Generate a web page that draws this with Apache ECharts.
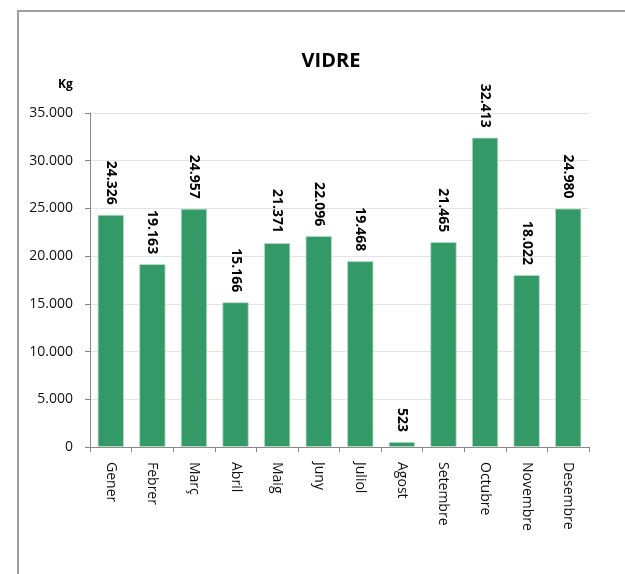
<!DOCTYPE html>
<html>
<head>
<meta charset="utf-8">
<script src="https://cdn.jsdelivr.net/npm/echarts@6/dist/echarts.min.js"></script>
<style>html,body{margin:0;padding:0;background:#fff;}#c{width:625px;height:574px;}</style>
</head>
<body>
<div id="c"></div>
<script>
const categories = ['Gener','Febrer','Març','Abril','Maig','Juny','Juliol','Agost','Setembre','Octubre','Novembre','Desembre'];
const values = [24326, 19163, 24957, 15166, 21371, 22096, 19468, 523, 21465, 32413, 18022, 24980];
const yTicks = [0, 5000, 10000, 15000, 20000, 25000, 30000, 35000];
const titleText = 'VIDRE';
const unitText = 'Kg';

function fmt(v) {
  return String(Math.round(v)).replace(/\B(?=(\d{3})+(?!\d))/g, '.');
}
const FONT = '"Open Sans", sans-serif';
const chart = echarts.init(document.getElementById('c'), null, {renderer: 'canvas'});
chart.setOption({
  animation: false,
  backgroundColor: '#fff',
  title: {
    text: titleText,
    left: 326, top: 46, textAlign: 'center',
    textStyle: {fontFamily: FONT, fontWeight: 'bold', fontSize: 20, color: '#000'}
  },
  graphic: [
    {type: 'rect', shape: {x: 18, y: 11, width: 700, height: 700},
     style: {fill: 'none', stroke: '#a0a0a0', lineWidth: 2}, silent: true, z: -1},
    {type: 'text', left: 58, top: 79,
     style: {text: unitText, font: 'bold 12px "Open Sans", sans-serif', fill: '#000'}}
  ],
  grid: {left: 90, right: 36, top: 113, bottom: 127, containLabel: false},
  xAxis: {
    type: 'category',
    data: categories,
    axisLine: {show: true, lineStyle: {color: '#888', width: 1}},
    axisTick: {show: true, alignWithLabel: false, length: 5, lineStyle: {color: '#888'}},
    axisLabel: {rotate: -90, interval: 0, margin: 15, fontFamily: FONT, fontSize: 14, color: '#111'}
  },
  yAxis: {
    type: 'value',
    min: yTicks[0], max: yTicks[yTicks.length - 1], interval: 5000,
    axisLine: {show: true, lineStyle: {color: '#888', width: 1}},
    axisTick: {show: true, length: 5, lineStyle: {color: '#888'}},
    splitLine: {show: true, lineStyle: {color: '#e3e3e3', width: 1}},
    axisLabel: {formatter: v => fmt(v), margin: 17, fontFamily: FONT, fontSize: 14, color: '#111'}
  },
  series: [{
    type: 'bar',
    data: values,
    barCategoryGap: '37%',
    itemStyle: {color: '#339966', borderColor: '#b9dcc8', borderWidth: 0.8},
    label: {
      show: true,
      position: 'top',
      distance: 10,
      rotate: -90,
      align: 'right',
      verticalAlign: 'middle',
      formatter: p => fmt(p.value),
      fontFamily: FONT, fontWeight: 'bold', fontSize: 14, color: '#000'
    }
  }]
});
</script>
</body>
</html>
